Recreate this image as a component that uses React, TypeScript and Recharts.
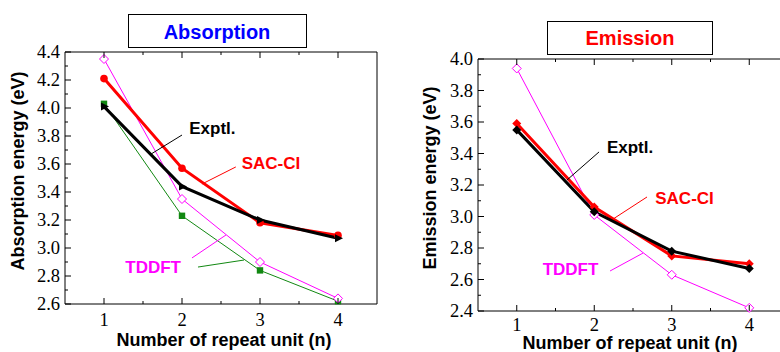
import React from 'react';
import { LineChart, Line, XAxis, YAxis, ReferenceLine, ReferenceDot } from 'recharts';

// repeat units (x) shared by both panels
const repeatUnits = [1, 2, 3, 4];

// absorption panel (eV)
const absSacCi = [4.21, 3.57, 3.18, 3.09];
const absExptl = [4.01, 3.44, 3.2, 3.07];
const absTddftOpen = [4.35, 3.35, 2.9, 2.64];
const absTddftSquare = [4.03, 3.23, 2.84, 2.62];

// emission panel (eV)
const emSacCi = [3.59, 3.06, 2.75, 2.7];
const emExptl = [3.55, 3.03, 2.78, 2.67];
const emTddft = [3.94, 3.01, 2.63, 2.42];

const xMajorTicks = [1, 2, 3, 4];
const xMinorTicks = [1.5, 2.5, 3.5];
const absMajorTicks = [2.6, 2.8, 3.0, 3.2, 3.4, 3.6, 3.8, 4.0, 4.2, 4.4];
const absMinorTicks = [2.7, 2.9, 3.1, 3.3, 3.5, 3.7, 3.9, 4.1, 4.3];
const emMajorTicks = [2.4, 2.6, 2.8, 3.0, 3.2, 3.4, 3.6, 3.8, 4.0];
const emMinorTicks = [2.5, 2.7, 2.9, 3.1, 3.3, 3.5, 3.7, 3.9];

const SERIF = 'Liberation Serif, Times New Roman, serif';
const SANS = '"Liberation Sans", Arial, Helvetica, sans-serif';
const RED = '#ff0000';
const MAGENTA = '#ff00ff';
const GREEN = '#118811';

const absData = repeatUnits.map((n, i) => ({
  n,
  sac: absSacCi[i],
  exp: absExptl[i],
  tdOpen: absTddftOpen[i],
  tdSq: absTddftSquare[i],
}));

const emData = repeatUnits.map((n, i) => ({
  n,
  sac: emSacCi[i],
  exp: emExptl[i],
  td: emTddft[i],
}));

const allTicks = (a: number[], b: number[]) => [...a, ...b].sort((p, q) => p - q);

type Side = 'bottom' | 'top' | 'left' | 'right';

const tickTextStyle = { fontFamily: SERIF, fontSize: 18.5, fill: '#000' };

function makeTick(side: Side, majors: number[], showLabel: boolean, labelGap = 21) {
  return (props: any) => {
    const { x, y, payload } = props;
    const v = payload.value as number;
    const major = majors.some((m) => Math.abs(m - v) < 1e-6);
    const len = major ? 6 : 3;
    let x2 = x;
    let y2 = y;
    if (side === 'bottom') y2 = y - len;
    if (side === 'top') y2 = y + len;
    if (side === 'left') x2 = x + len;
    if (side === 'right') x2 = x - len;
    return (
      <g>
        <line x1={x} y1={y} x2={x2} y2={y2} stroke="#000" strokeWidth={1} />
        {showLabel && major && side === 'bottom' && (
          <text x={x} y={y + labelGap} textAnchor="middle" style={tickTextStyle}>
            {v}
          </text>
        )}
        {showLabel && major && side === 'left' && (
          <text x={x - 5} y={y + 6} textAnchor="end" style={tickTextStyle}>
            {v.toFixed(1)}
          </text>
        )}
      </g>
    );
  };
}

const filledCircle = (color: string) => (p: any) => (
  <circle key={`c${p.index}`} cx={p.cx} cy={p.cy} r={3.8} fill={color} />
);

const filledSquare = (color: string) => (p: any) => (
  <rect key={`s${p.index}`} x={p.cx - 3.2} y={p.cy - 3.2} width={6.4} height={6.4} fill={color} />
);

const openDiamond = (color: string) => (p: any) => (
  <path
    key={`d${p.index}`}
    d={`M${p.cx},${p.cy - 4.5}L${p.cx + 4.5},${p.cy}L${p.cx},${p.cy + 4.5}L${p.cx - 4.5},${p.cy}Z`}
    fill="#fff"
    stroke={color}
    strokeWidth={1}
  />
);

const filledDiamond = (color: string) => (p: any) => (
  <path
    key={`f${p.index}`}
    d={`M${p.cx},${p.cy - 4.5}L${p.cx + 4.5},${p.cy}L${p.cx},${p.cy + 4.5}L${p.cx - 4.5},${p.cy}Z`}
    fill={color}
  />
);

const arrowHead = (color: string) => (p: any) => (
  <path
    key={`a${p.index}`}
    d={`M${p.cx + 5},${p.cy}L${p.cx - 3},${p.cy - 4}L${p.cx - 3},${p.cy + 4}Z`}
    fill={color}
  />
);

const noteLabel = (value: string, color: string) => ({
  value,
  position: 'center' as const,
  fill: color,
  fontSize: 17,
  fontWeight: 'bold',
  fontFamily: SANS,
});

// the four sides of the plot frame, ticks pointing inwards
function frameAxes(domainY: [number, number], majorsY: number[], minorsY: number[], labelGap: number) {
  const yTicks = allTicks(majorsY, minorsY);
  const xTicks = allTicks(xMajorTicks, xMinorTicks);
  const common = {
    type: 'number' as const,
    interval: 0 as const,
    tickSize: 0,
    tickMargin: 0,
    tickLine: false,
    axisLine: { stroke: '#000' },
  };
  return [
    <XAxis key="xb" {...common} dataKey="n" domain={[0.5, 4.5]} ticks={xTicks} height={1}
      tick={makeTick('bottom', xMajorTicks, true, labelGap)} />,
    <XAxis key="xt" {...common} xAxisId="top" orientation="top" dataKey="n" domain={[0.5, 4.5]} ticks={xTicks} height={1}
      tick={makeTick('top', xMajorTicks, false)} />,
    <YAxis key="yl" {...common} domain={domainY} ticks={yTicks} width={1}
      tick={makeTick('left', majorsY, true)} />,
    <YAxis key="yr" {...common} yAxisId="right" orientation="right" domain={domainY} ticks={yTicks} width={1}
      tick={makeTick('right', majorsY, false)} />,
  ];
}

function AbsorptionPanel() {
  return (
    <LineChart
      width={390}
      height={352}
      data={absData}
      margin={{ top: 51, right: 12, bottom: 47, left: 64 }}
    >
      {frameAxes([2.6, 4.4], absMajorTicks, absMinorTicks, 22)}
      <Line type="linear" dataKey="tdSq" stroke={GREEN} strokeWidth={1} dot={filledSquare(GREEN)} isAnimationActive={false} />
      <Line type="linear" dataKey="tdOpen" stroke={MAGENTA} strokeWidth={1} dot={openDiamond(MAGENTA)} isAnimationActive={false} />
      <Line type="linear" dataKey="sac" stroke={RED} strokeWidth={3} dot={filledCircle(RED)} isAnimationActive={false} />
      <Line type="linear" dataKey="exp" stroke="#000" strokeWidth={3} dot={arrowHead('#000')} isAnimationActive={false} />

      <ReferenceLine segment={[{ x: 2.0, y: 3.807 }, { x: 1.603, y: 3.671 }]} stroke="#000" strokeWidth={1} />
      <ReferenceLine segment={[{ x: 2.69, y: 3.579 }, { x: 2.256, y: 3.457 }]} stroke={RED} strokeWidth={1} />
      <ReferenceLine segment={[{ x: 2.128, y: 2.929 }, { x: 2.564, y: 3.093 }]} stroke={MAGENTA} strokeWidth={1} />
      <ReferenceLine segment={[{ x: 2.205, y: 2.864 }, { x: 2.795, y: 2.914 }]} stroke={GREEN} strokeWidth={1} />
      <ReferenceDot x={2.39} y={3.857} r={0} fill="none" stroke="none" label={noteLabel('Exptl.', '#000')} />
      <ReferenceDot x={3.14} y={3.607} r={0} fill="none" stroke="none" label={noteLabel('SAC-CI', RED)} />
      <ReferenceDot x={1.63} y={2.864} r={0} fill="none" stroke="none" label={noteLabel('TDDFT', MAGENTA)} />
    </LineChart>
  );
}

function EmissionPanel() {
  return (
    <LineChart
      width={410}
      height={352}
      data={emData}
      margin={{ top: 58, right: 11, bottom: 40, left: 87 }}
    >
      {frameAxes([2.4, 4.0], emMajorTicks, emMinorTicks, 20)}
      <Line type="linear" dataKey="td" stroke={MAGENTA} strokeWidth={1} dot={openDiamond(MAGENTA)} isAnimationActive={false} />
      <Line type="linear" dataKey="sac" stroke={RED} strokeWidth={3} dot={filledDiamond(RED)} isAnimationActive={false} />
      <Line type="linear" dataKey="exp" stroke="#000" strokeWidth={3} dot={filledDiamond('#000')} isAnimationActive={false} />

      <ReferenceLine segment={[{ x: 2.062, y: 3.41 }, { x: 1.649, y: 3.232 }]} stroke="#000" strokeWidth={1} />
      <ReferenceLine segment={[{ x: 2.681, y: 3.124 }, { x: 2.243, y: 2.984 }]} stroke={RED} strokeWidth={1} />
      <ReferenceLine segment={[{ x: 2.204, y: 2.654 }, { x: 2.63, y: 2.768 }]} stroke={MAGENTA} strokeWidth={1} />
      <ReferenceDot x={2.462} y={3.441} r={0} fill="none" stroke="none" label={noteLabel('Exptl.', '#000')} />
      <ReferenceDot x={3.165} y={3.117} r={0} fill="none" stroke="none" label={noteLabel('SAC-CI', RED)} />
      <ReferenceDot x={1.694} y={2.667} r={0} fill="none" stroke="none" label={noteLabel('TDDFT', MAGENTA)} />
    </LineChart>
  );
}

export default function App() {
  return (
    <div
      style={{
        position: 'fixed',
        left: 0,
        top: 0,
        width: 780,
        height: 352,
        overflow: 'hidden',
        background: '#fff',
      }}
    >
      <div style={{ position: 'absolute', left: 0, top: 0 }}>
        <AbsorptionPanel />
      </div>
      <div style={{ position: 'absolute', left: 390, top: 0 }}>
        <EmissionPanel />
      </div>
      <svg
        width={780}
        height={352}
        style={{ position: 'absolute', left: 0, top: 0, pointerEvents: 'none' }}
      >
        {/* title boxes */}
        <rect x={128.5} y={14.5} width={178} height={33} fill="#fff" stroke="#000" strokeWidth={1} />
        <text x={217} y={39} textAnchor="middle" fontFamily={SANS} fontWeight="bold" fontSize={20} fill="#0000ff">
          Absorption
        </text>
        <rect x={547.5} y={21.5} width={165} height={33} fill="#fff" stroke="#000" strokeWidth={1} />
        <text x={630} y={45} textAnchor="middle" fontFamily={SANS} fontWeight="bold" fontSize={20} fill={RED}>
          Emission
        </text>

        {/* axis titles */}
        <text x={224} y={346} textAnchor="middle" fontFamily={SANS} fontWeight="bold" fontSize={18} fill="#000">
          Number of repeat unit (n)
        </text>
        <text x={630} y={349} textAnchor="middle" fontFamily={SANS} fontWeight="bold" fontSize={18} fill="#000">
          Number of repeat unit (n)
        </text>
        <text
          transform="translate(24,171) rotate(-90)"
          textAnchor="middle"
          fontFamily={SANS}
          fontWeight="bold"
          fontSize={18}
          fill="#000"
        >
          Absorption energy (eV)
        </text>
        <text
          transform="translate(436,178) rotate(-90)"
          textAnchor="middle"
          fontFamily={SANS}
          fontWeight="bold"
          fontSize={18}
          fill="#000"
        >
          Emission energy (eV)
        </text>
      </svg>
    </div>
  );
}
